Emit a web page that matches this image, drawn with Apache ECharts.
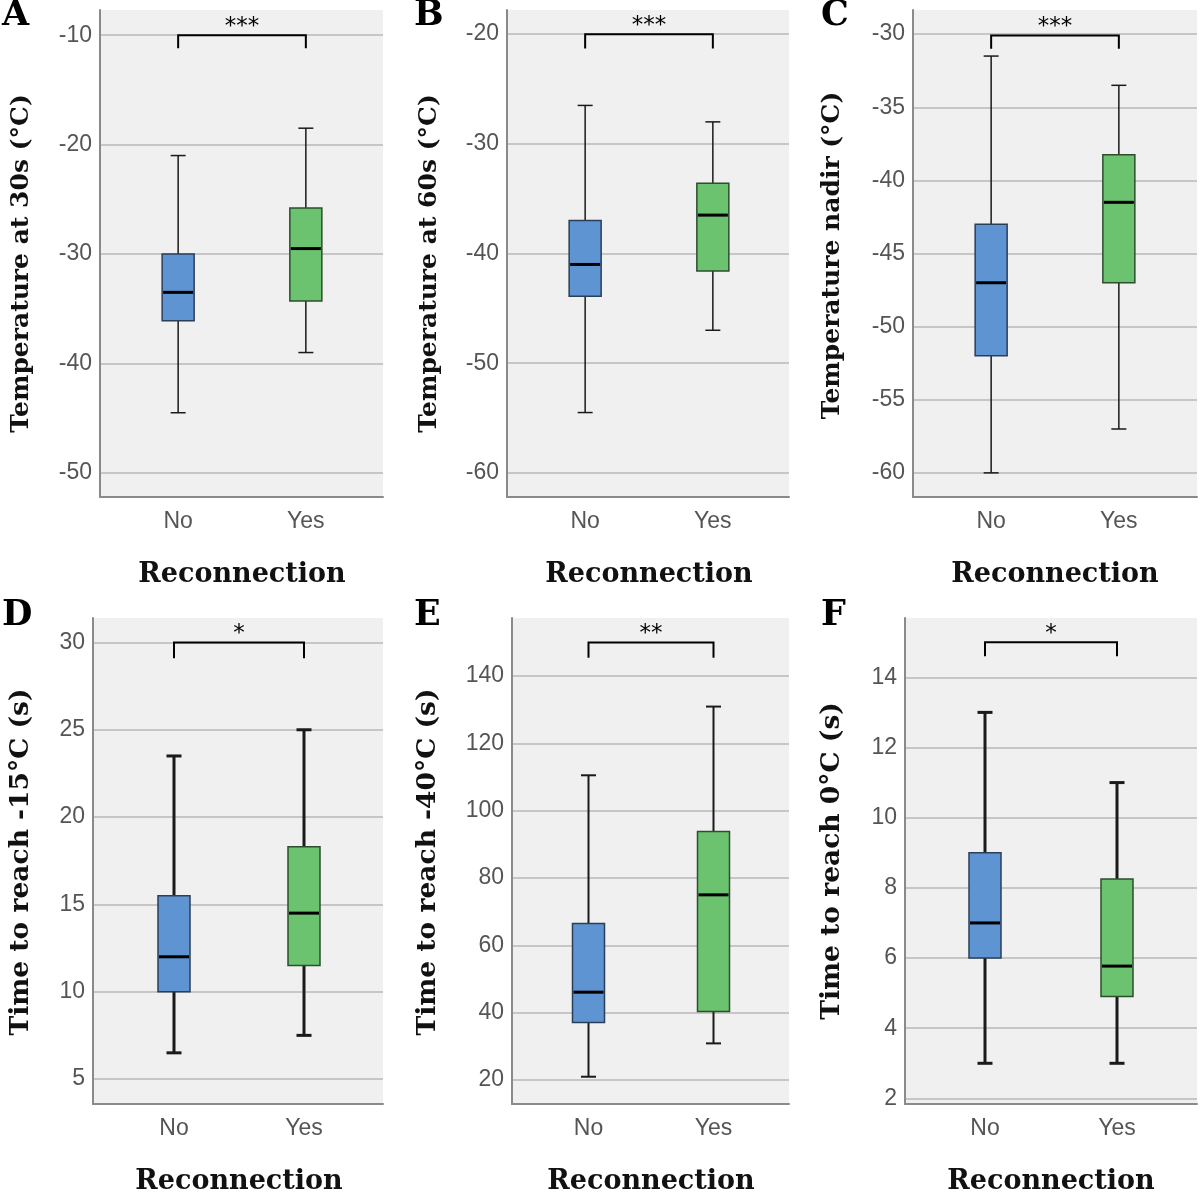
<!DOCTYPE html>
<html><head><meta charset="utf-8">
<script src="https://cdn.jsdelivr.net/npm/echarts@6/dist/echarts.min.js"></script>
<style>html,body{margin:0;padding:0;background:#fff}#c{width:1200px;height:1192px}</style>
</head><body><div id="c"></div>
<script>
// ---------- data ----------
const categories = ['No', 'Yes'];
const panelLetters = ['A', 'B', 'C', 'D', 'E', 'F'];
const xTitle = 'Reconnection';
const yTitles = [
  'Temperature at 30s (°C)',
  'Temperature at 60s (°C)',
  'Temperature nadir (°C)',
  'Time to reach -15°C (s)',
  'Time to reach -40°C (s)',
  'Time to reach 0°C (s)'
];
// box stats: [lower whisker, Q1, median, Q3, upper whisker]
const boxA_No  = [-44.5, -36.1, -33.5, -30.0, -21.0];
const boxA_Yes = [-39.0, -34.3, -29.5, -25.8, -18.5];
const boxB_No  = [-54.5, -43.9, -41.0, -37.0, -26.5];
const boxB_Yes = [-47.0, -41.6, -36.5, -33.6, -28.0];
const boxC_No  = [-60.0, -52.0, -47.0, -43.0, -31.5];
const boxC_Yes = [-57.0, -47.0, -41.5, -38.25, -33.5];
const boxD_No  = [6.5, 10.0, 12.0, 15.5, 23.5];
const boxD_Yes = [7.5, 11.5, 14.5, 18.3, 25.0];
const boxE_No  = [21.0, 37.1, 46.1, 66.5, 110.5];
const boxE_Yes = [30.9, 40.4, 75.0, 93.8, 130.9];
const boxF_No  = [3.0, 6.0, 7.0, 9.0, 13.0];
const boxF_Yes = [3.0, 4.9, 5.77, 8.25, 11.0];
// y tick labels
const ticksA = [-50, -40, -30, -20, -10];
const ticksB = [-60, -50, -40, -30, -20];
const ticksC = [-60, -55, -50, -45, -40, -35, -30];
const ticksD = [5, 10, 15, 20, 25, 30];
const ticksE = [20, 40, 60, 80, 100, 120, 140];
const ticksF = [2, 4, 6, 8, 10, 12, 14];
// y axis extents
const rangeA = [-52.2, -7.7];
const rangeB = [-62.2, -17.8];
const rangeC = [-61.65, -28.35];
const rangeD = [3.57, 31.4];
const rangeE = [12.9, 157.2];
const rangeF = [1.84, 15.69];
// significance brackets: [bar level, end of drop]
const bracketA = [-10.0, -11.2];
const bracketB = [-20.0, -21.3];
const bracketC = [-30.1, -31.0];
const bracketD = [30.0, 29.1];
const bracketE = [149.9, 145.4];
const bracketF = [15.0, 14.6];
const starsList = ['***', '***', '***', '*', '**', '*'];

const panels = [
  {no: boxA_No, yes: boxA_Yes, ticks: ticksA, range: rangeA, br: bracketA},
  {no: boxB_No, yes: boxB_Yes, ticks: ticksB, range: rangeB, br: bracketB},
  {no: boxC_No, yes: boxC_Yes, ticks: ticksC, range: rangeC, br: bracketC},
  {no: boxD_No, yes: boxD_Yes, ticks: ticksD, range: rangeD, br: bracketD},
  {no: boxE_No, yes: boxE_Yes, ticks: ticksE, range: rangeE, br: bracketE},
  {no: boxF_No, yes: boxF_Yes, ticks: ticksF, range: rangeF, br: bracketF}
];

// ---------- layout (pixels) ----------
const layout = [
  {left: 100, width: 283, top: 10,  height: 487, c: 242,  sp: 127.7, gap: 66, fs: 25,   shift: 20, xg: 64, lw: 1.5, lx: 2,   ly: 14},
  {left: 507, width: 282, top: 10,  height: 487, c: 649,  sp: 127.7, gap: 65, fs: 25,   shift: 20, xg: 64, lw: 1.5, lx: 414, ly: 14},
  {left: 913, width: 284, top: 10,  height: 487, c: 1055, sp: 127.7, gap: 68, fs: 25,   shift: 4,  xg: 64, lw: 1.5, lx: 821, ly: 14},
  {left: 93,  width: 290, top: 618, height: 486, c: 239,  sp: 130,   gap: 58, fs: 26.5, shift: 2,  xg: 64, lw: 3,   lx: 2,   ly: 614},
  {left: 512, width: 277, top: 618, height: 486, c: 651,  sp: 125,   gap: 70, fs: 26.5, shift: 2,  xg: 64, lw: 2,   lx: 414, ly: 614},
  {left: 905, width: 292, top: 618, height: 486, c: 1051, sp: 132,   gap: 59, fs: 26.5, shift: 0,  xg: 64, lw: 3,   lx: 821, ly: 614}
];

const FILL = ['#5f94d3', '#6cc36f'];
const EDGE = ['#2b3e57', '#2c4d2e'];
const serif = 'DejaVu Serif';
const sans = 'Liberation Sans';

const grids = [], xAxes = [], yAxes = [], series = [], graphics = [];

panels.forEach((p, i) => {
  const L = layout[i];
  const g0 = 2 * i, g1 = 2 * i + 1;
  grids.push({left: L.left, top: L.top, width: L.width, height: L.height,
    show: true, backgroundColor: '#f0f0f0', borderWidth: 0,
    containLabel: false, outerBoundsMode: 'none'});
  grids.push({left: L.c - L.sp, top: L.top, width: 2 * L.sp, height: L.height,
    show: false, containLabel: false, outerBoundsMode: 'none'});
  xAxes.push({gridIndex: g0, type: 'value', min: 0, max: 1,
    axisLine: {show: true, lineStyle: {color: '#8a8a8a', width: 2}},
    axisTick: {show: false}, axisLabel: {show: false}, splitLine: {show: false}});
  xAxes.push({gridIndex: g1, type: 'category', data: categories,
    axisLine: {show: false}, axisTick: {show: false},
    axisLabel: {fontFamily: sans, fontSize: 23, color: '#555', margin: 13},
    name: xTitle, nameLocation: 'middle', nameGap: L.xg,
    nameTextStyle: {fontFamily: serif, fontWeight: 'bold', fontSize: 27, color: '#111'}});
  yAxes.push({gridIndex: g0, type: 'value', min: p.range[0], max: p.range[1],
    axisLine: {show: true, lineStyle: {color: '#8a8a8a', width: 2}},
    axisTick: {show: false, customValues: p.ticks},
    axisLabel: {customValues: p.ticks, fontFamily: sans, fontSize: 23, color: '#555', margin: 8},
    splitLine: {show: true, lineStyle: {color: '#c6c6c6', width: 2}},
    name: yTitles[i], nameLocation: 'middle', nameRotate: 90, nameGap: L.gap,
    nameTextStyle: {fontFamily: serif, fontWeight: 'bold', fontSize: L.fs, color: '#111',
      padding: [0, L.shift, 0, 0]}});
  yAxes.push({gridIndex: g1, type: 'value', min: p.range[0], max: p.range[1], show: false});

  const lw = L.lw;
  series.push({
    type: 'custom', xAxisIndex: g1, yAxisIndex: g1,
    dimensions: ['cat', 'lo', 'q1', 'med', 'q3', 'hi'],
    encode: {x: 0, y: [1, 2, 3, 4, 5]},
    data: [[0].concat(p.no), [1].concat(p.yes)],
    renderItem: function (params, api) {
      const k = api.value(0);
      const lo = api.coord([k, api.value(1)]);
      const q1 = api.coord([k, api.value(2)]);
      const md = api.coord([k, api.value(3)]);
      const q3 = api.coord([k, api.value(4)]);
      const hi = api.coord([k, api.value(5)]);
      const cx = lo[0], bw = 32, cap = 15;
      const ls = {stroke: '#1a1a1a', lineWidth: lw};
      return {type: 'group', children: [
        {type: 'line', shape: {x1: cx, y1: hi[1], x2: cx, y2: q3[1]}, style: ls},
        {type: 'line', shape: {x1: cx, y1: q1[1], x2: cx, y2: lo[1]}, style: ls},
        {type: 'line', shape: {x1: cx - cap / 2, y1: hi[1], x2: cx + cap / 2, y2: hi[1]}, style: ls},
        {type: 'line', shape: {x1: cx - cap / 2, y1: lo[1], x2: cx + cap / 2, y2: lo[1]}, style: ls},
        {type: 'rect', shape: {x: cx - bw / 2, y: q3[1], width: bw, height: q1[1] - q3[1]},
          style: {fill: FILL[k], stroke: EDGE[k], lineWidth: 1.5}},
        {type: 'line', shape: {x1: cx - bw / 2 + 1, y1: md[1], x2: cx + bw / 2 - 1, y2: md[1]},
          style: {stroke: '#000', lineWidth: 3}}
      ]};
    }
  });
  const stars = starsList[i];
  series.push({
    type: 'custom', xAxisIndex: g1, yAxisIndex: g1,
    dimensions: ['x0', 'x1', 'bar', 'drop'],
    encode: {x: [0, 1], y: [2, 3]},
    data: [[0, 1, p.br[0], p.br[1]]],
    renderItem: function (params, api) {
      const a = api.coord([api.value(0), api.value(2)]);
      const b = api.coord([api.value(1), api.value(2)]);
      const d = api.coord([api.value(0), api.value(3)]);
      return {type: 'group', children: [
        {type: 'polyline', shape: {points: [[a[0], d[1]], a, b, [b[0], d[1]]]},
          style: {stroke: '#000', lineWidth: 2, fill: null}},
        {type: 'text', style: {text: stars, x: (a[0] + b[0]) / 2, y: a[1] + 3,
          align: 'center', verticalAlign: 'bottom', font: '23px "DejaVu Sans"', fill: '#000'}}
      ]};
    }
  });
  graphics.push({type: 'text', left: L.lx, top: L.ly - 16,
    style: {text: panelLetters[i], font: 'bold 35px "DejaVu Serif"', fill: '#000'}});
});

const chart = echarts.init(document.getElementById('c'));
chart.setOption({
  animation: false,
  backgroundColor: '#fff',
  grid: grids, xAxis: xAxes, yAxis: yAxes, series: series, graphic: graphics
});
</script></body></html>
